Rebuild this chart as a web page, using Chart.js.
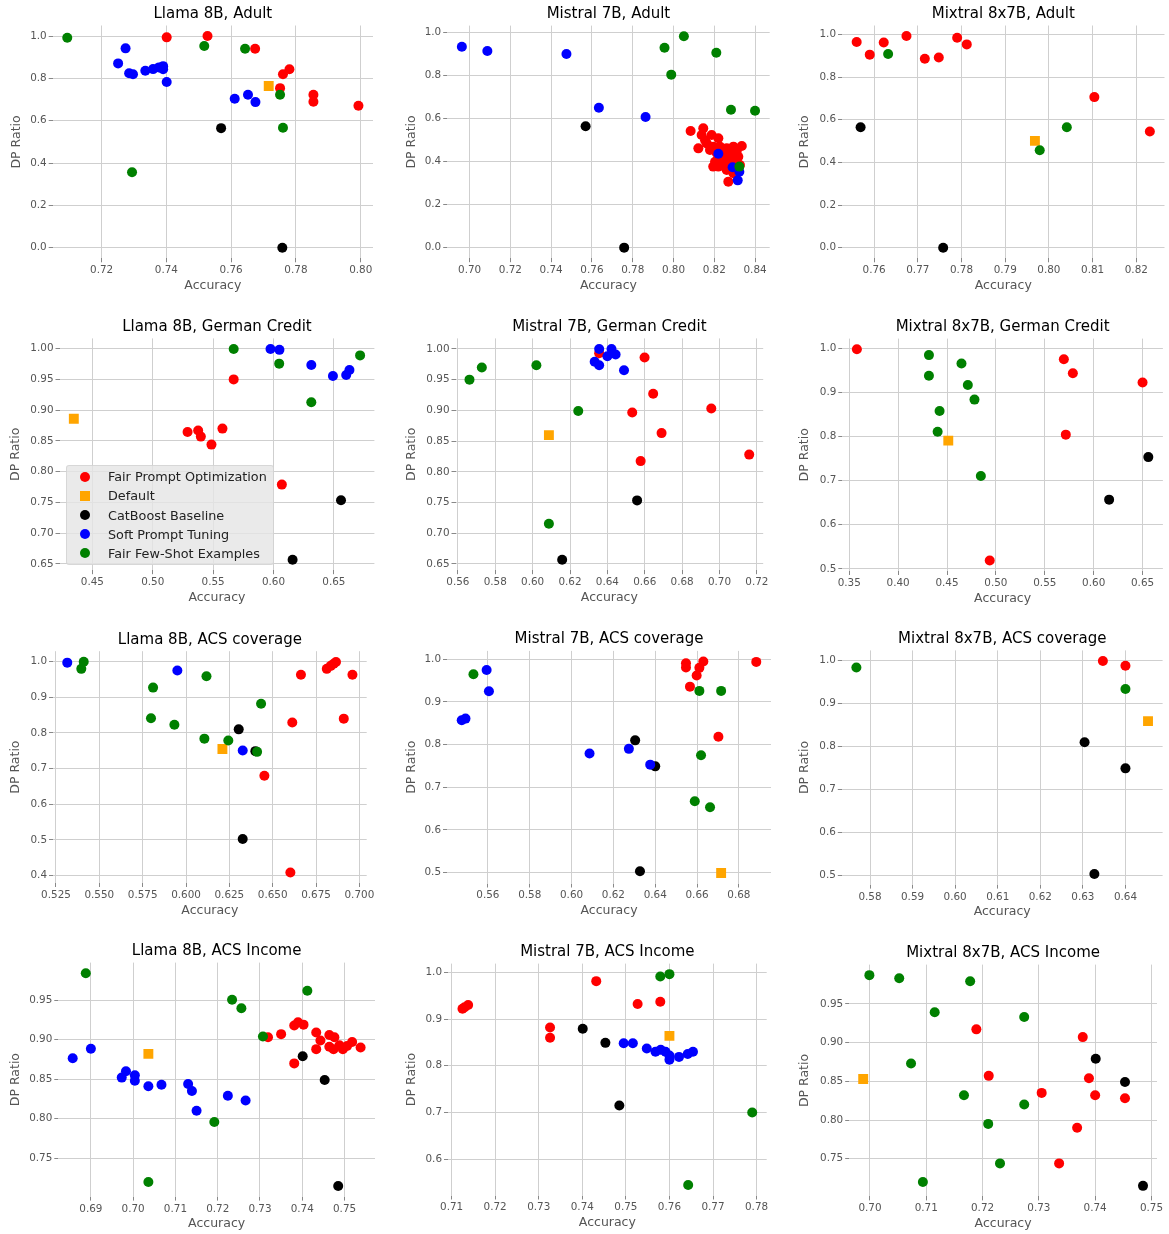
<!DOCTYPE html>
<html>
<head>
<meta charset="utf-8">
<script src="https://cdn.jsdelivr.net/npm/chart.js@4.4.1/dist/chart.umd.min.js"></script>
<style>
  body { margin: 0; background: #fff; }
  #fig { position: relative; width: 1169px; height: 1234px; overflow: hidden; background: #fff; }
  #fig canvas { position: absolute; }
  .legend { position: absolute; background: rgba(229,229,229,0.8); border: 1px solid rgba(204,204,204,0.6);
            border-radius: 3px; box-sizing: border-box; font-family: 'DejaVu Sans'; font-size: 12.8px; color: #222; }
  .legend .row { position: absolute; left: 0; height: 19px; line-height: 19px; white-space: nowrap; }
  .legend .mk { position: absolute; width: 10px; height: 10px; top: 4.5px; }
  .legend .tx { position: absolute; }
</style>
</head>
<body>
<div id="fig"></div>
<script>
const FONT = 'DejaVu Sans';

const seriesNames = ['Fair Prompt Optimization', 'Default', 'CatBoost Baseline', 'Soft Prompt Tuning', 'Fair Few-Shot Examples'];
const seriesColors = ['#ff0000', '#ffa500', '#000000', '#0000ff', '#008000'];
const seriesShapes = ['circle', 'rect', 'circle', 'circle', 'circle'];
// lower number is drawn on top
const drawOrder = [4, 5, 3, 2, 1];

const panelTitles = [
  'Llama 8B, Adult', 'Mistral 7B, Adult', 'Mixtral 8x7B, Adult',
  'Llama 8B, German Credit', 'Mistral 7B, German Credit', 'Mixtral 8x7B, German Credit',
  'Llama 8B, ACS coverage', 'Mistral 7B, ACS coverage', 'Mixtral 8x7B, ACS coverage',
  'Llama 8B, ACS Income', 'Mistral 7B, ACS Income', 'Mixtral 8x7B, ACS Income'
];

// ---- Llama 8B, Adult  [accuracy, dp ratio]
const llamaAdultFPO = [[0.7401,0.994],[0.7527,1.0],[0.7674,0.940],[0.7760,0.820],[0.7780,0.843],[0.7751,0.754],[0.7854,0.723],[0.7854,0.690],[0.7993,0.671]];
const llamaAdultDefault = [[0.7716,0.764]];
const llamaAdultCat = [[0.7569,0.565],[0.7758,0.0]];
const llamaAdultSPT = [[0.7274,0.942],[0.7251,0.871],[0.7285,0.824],[0.7297,0.820],[0.7335,0.836],[0.7359,0.844],[0.7377,0.852],[0.7390,0.858],[0.7390,0.843],[0.7401,0.783],[0.7611,0.704],[0.7652,0.723],[0.7675,0.688]];
const llamaAdultFFS = [[0.7094,0.992],[0.7517,0.953],[0.7643,0.940],[0.7751,0.723],[0.7760,0.567],[0.7294,0.357]];

// ---- Mistral 7B, Adult
const mistralAdultFPO = [[0.8084,0.543],[0.8146,0.555],[0.8138,0.524],[0.8187,0.524],[0.8220,0.509],[0.8122,0.462],[0.8163,0.485],[0.8179,0.454],[0.8196,0.470],[0.8228,0.470],[0.8244,0.447],[0.8261,0.462],[0.8294,0.470],[0.8335,0.473],[0.8310,0.447],[0.8277,0.431],[0.8244,0.416],[0.8204,0.400],[0.8195,0.377],[0.8236,0.384],[0.8269,0.392],[0.8302,0.408],[0.8318,0.423],[0.8261,0.361],[0.8294,0.346],[0.8269,0.307],[0.8220,0.377],[0.8326,0.384],[0.8155,0.500],[0.8212,0.440]];
const mistralAdultDefault = [[0.8280,0.369]];
const mistralAdultCat = [[0.7569,0.565],[0.7758,0.0]];
const mistralAdultSPT = [[0.6962,0.935],[0.7087,0.915],[0.7475,0.901],[0.7634,0.651],[0.7863,0.608],[0.8220,0.437],[0.8290,0.374],[0.8323,0.353],[0.8315,0.313]];
const mistralAdultFFS = [[0.7956,0.930],[0.8051,0.984],[0.8210,0.907],[0.7989,0.805],[0.8282,0.642],[0.8400,0.637],[0.8323,0.377]];

// ---- Mixtral 8x7B, Adult
const mixtralAdultFPO = [[0.7560,0.964],[0.7590,0.905],[0.7622,0.962],[0.7674,0.992],[0.7716,0.886],[0.7748,0.892],[0.7790,0.984],[0.7812,0.953],[0.8104,0.706],[0.8231,0.545]];
const mixtralAdultDefault = [[0.7968,0.501]];
const mixtralAdultCat = [[0.7569,0.565],[0.7758,0.0]];
const mixtralAdultSPT = [];
const mixtralAdultFFS = [[0.7632,0.908],[0.8041,0.565],[0.7979,0.457]];

// ---- Llama 8B, German Credit
const llamaGermanFPO = [[0.5288,0.8645],[0.5376,0.867],[0.5398,0.857],[0.5486,0.844],[0.5577,0.870],[0.5670,0.950],[0.6069,0.779]];
const llamaGermanDefault = [[0.4346,0.886]];
const llamaGermanCat = [[0.6158,0.657],[0.6559,0.7535]];
const llamaGermanSPT = [[0.5975,0.9995],[0.6049,0.998],[0.6313,0.9735],[0.6492,0.9556],[0.6602,0.957],[0.6629,0.9653]];
const llamaGermanFFS = [[0.5670,0.9995],[0.6047,0.9756],[0.6313,0.9128],[0.6717,0.989]];

// ---- Mistral 7B, German Credit
const mistralGermanFPO = [[0.6356,0.993],[0.6599,0.986],[0.6645,0.927],[0.6533,0.8965],[0.6956,0.903],[0.6690,0.863],[0.6578,0.8174],[0.7159,0.828]];
const mistralGermanDefault = [[0.6087,0.8597]];
const mistralGermanCat = [[0.6158,0.657],[0.6559,0.7535]];
const mistralGermanSPT = [[0.6356,1.0],[0.6422,1.0],[0.6332,0.979],[0.6356,0.9735],[0.6400,0.988],[0.6444,0.991],[0.6489,0.9653]];
const mistralGermanFFS = [[0.5662,0.950],[0.5728,0.9697],[0.6020,0.9735],[0.6244,0.899],[0.6087,0.7156]];

// ---- Mixtral 8x7B, German Credit
const mixtralGermanFPO = [[0.3578,0.9985],[0.5695,0.9758],[0.5787,0.944],[0.6500,0.9227],[0.5715,0.8045],[0.4937,0.519]];
const mixtralGermanDefault = [[0.4513,0.791]];
const mixtralGermanCat = [[0.6158,0.657],[0.6559,0.7535]];
const mixtralGermanSPT = [];
const mixtralGermanFFS = [[0.4315,0.985],[0.4315,0.938],[0.4648,0.966],[0.4713,0.917],[0.4781,0.884],[0.4424,0.858],[0.4404,0.811],[0.4846,0.7106]];

// ---- Llama 8B, ACS coverage
const llamaCovFPO = [[0.6663,0.963],[0.6812,0.9795],[0.6835,0.988],[0.6852,0.994],[0.6865,0.999],[0.6960,0.963],[0.6613,0.829],[0.6910,0.840],[0.6452,0.680],[0.6602,0.409]];
const llamaCovDefault = [[0.6210,0.755]];
const llamaCovCat = [[0.6304,0.810],[0.6400,0.749],[0.6327,0.503]];
const llamaCovSPT = [[0.5315,0.997],[0.5950,0.975],[0.6327,0.751]];
const llamaCovFFS = [[0.5410,0.9995],[0.5396,0.9795],[0.5810,0.927],[0.5798,0.841],[0.5933,0.823],[0.6118,0.959],[0.6106,0.784],[0.6244,0.779],[0.6433,0.882],[0.6410,0.747]];

// ---- Mistral 7B, ACS coverage
const mistralCovFPO = [[0.6547,0.9906],[0.6547,0.981],[0.6630,0.995],[0.6611,0.980],[0.6598,0.962],[0.6566,0.936],[0.6883,0.994],[0.6702,0.8185]];
const mistralCovDefault = [[0.6715,0.499]];
const mistralCovCat = [[0.6304,0.810],[0.6400,0.749],[0.6327,0.503]];
const mistralCovSPT = [[0.5475,0.857],[0.5493,0.861],[0.5594,0.975],[0.5605,0.925],[0.6086,0.779],[0.6274,0.790],[0.6376,0.753]];
const mistralCovFFS = [[0.5531,0.965],[0.6611,0.926],[0.6715,0.926],[0.6619,0.775],[0.6589,0.667],[0.6662,0.653]];

// ---- Mixtral 8x7B, ACS coverage
const mixtralCovFPO = [[0.6347,0.999],[0.6400,0.988]];
const mixtralCovDefault = [[0.6453,0.859]];
const mixtralCovCat = [[0.6304,0.810],[0.6400,0.749],[0.6327,0.503]];
const mixtralCovSPT = [];
const mixtralCovFFS = [[0.5768,0.984],[0.6400,0.934]];

// ---- Llama 8B, ACS Income
const llamaIncomeFPO = [[0.7319,0.903],[0.7350,0.907],[0.7381,0.918],[0.7390,0.922],[0.7403,0.919],[0.7433,0.909],[0.7443,0.899],[0.7433,0.888],[0.7381,0.870],[0.7464,0.906],[0.7476,0.903],[0.7464,0.891],[0.7474,0.888],[0.7488,0.893],[0.7496,0.888],[0.7506,0.892],[0.7518,0.897],[0.7538,0.890]];
const llamaIncomeDefault = [[0.7036,0.882]];
const llamaIncomeCat = [[0.7401,0.879],[0.7453,0.849],[0.7485,0.715]];
const llamaIncomeSPT = [[0.6857,0.8765],[0.6900,0.8884],[0.6973,0.852],[0.6983,0.860],[0.7004,0.855],[0.7004,0.848],[0.7036,0.841],[0.7067,0.843],[0.7130,0.844],[0.7139,0.835],[0.7150,0.810],[0.7224,0.829],[0.7266,0.823]];
const llamaIncomeFFS = [[0.6888,0.984],[0.7234,0.9504],[0.7256,0.9398],[0.7412,0.9619],[0.7307,0.904],[0.7192,0.7959],[0.7036,0.7199]];

// ---- Mistral 7B, ACS Income
const mistralIncomeFPO = [[0.7125,0.922],[0.7130,0.925],[0.7138,0.930],[0.7326,0.882],[0.7326,0.860],[0.7432,0.981],[0.7527,0.932],[0.7579,0.937]];
const mistralIncomeDefault = [[0.7600,0.864]];
const mistralIncomeCat = [[0.7401,0.879],[0.7453,0.849],[0.7485,0.715]];
const mistralIncomeSPT = [[0.7495,0.848],[0.7516,0.848],[0.7548,0.837],[0.7568,0.830],[0.7580,0.834],[0.7591,0.830],[0.7600,0.813],[0.7600,0.822],[0.7622,0.819],[0.7642,0.825],[0.7654,0.830]];
const mistralIncomeFFS = [[0.7579,0.991],[0.7600,0.996],[0.7790,0.700],[0.7643,0.545]];

// ---- Mixtral 8x7B, ACS Income
const mixtralIncomeFPO = [[0.7189,0.917],[0.7378,0.907],[0.7211,0.857],[0.7389,0.854],[0.7305,0.835],[0.7400,0.832],[0.7453,0.828],[0.7368,0.790],[0.7336,0.744]];
const mixtralIncomeDefault = [[0.6988,0.853]];
const mixtralIncomeCat = [[0.7401,0.879],[0.7453,0.849],[0.7485,0.715]];
const mixtralIncomeSPT = [];
const mixtralIncomeFFS = [[0.6999,0.987],[0.7052,0.983],[0.7178,0.979],[0.7115,0.939],[0.7274,0.933],[0.7073,0.873],[0.7167,0.832],[0.7274,0.820],[0.7210,0.795],[0.7231,0.744],[0.7094,0.720]];

// ---- tick labels
const xTicksLlamaAdult = ['0.72','0.74','0.76','0.78','0.80'];
const xTicksMistralAdult = ['0.70','0.72','0.74','0.76','0.78','0.80','0.82','0.84'];
const xTicksMixtralAdult = ['0.76','0.77','0.78','0.79','0.80','0.81','0.82'];
const yTicksAdult = ['0.0','0.2','0.4','0.6','0.8','1.0'];
const xTicksLlamaGerman = ['0.45','0.50','0.55','0.60','0.65'];
const xTicksMistralGerman = ['0.56','0.58','0.60','0.62','0.64','0.66','0.68','0.70','0.72'];
const xTicksMixtralGerman = ['0.35','0.40','0.45','0.50','0.55','0.60','0.65'];
const yTicksGerman = ['0.65','0.70','0.75','0.80','0.85','0.90','0.95','1.00'];
const yTicksMixtralGerman = ['0.5','0.6','0.7','0.8','0.9','1.0'];
const xTicksLlamaCov = ['0.525','0.550','0.575','0.600','0.625','0.650','0.675','0.700'];
const yTicksLlamaCov = ['0.4','0.5','0.6','0.7','0.8','0.9','1.0'];
const xTicksMistralCov = ['0.56','0.58','0.60','0.62','0.64','0.66','0.68'];
const xTicksMixtralCov = ['0.58','0.59','0.60','0.61','0.62','0.63','0.64'];
const yTicksCov = ['0.5','0.6','0.7','0.8','0.9','1.0'];
const xTicksLlamaIncome = ['0.69','0.70','0.71','0.72','0.73','0.74','0.75'];
const xTicksMistralIncome = ['0.71','0.72','0.73','0.74','0.75','0.76','0.77','0.78'];
const xTicksMixtralIncome = ['0.70','0.71','0.72','0.73','0.74','0.75'];
const yTicksIncome = ['0.75','0.80','0.85','0.90','0.95'];
const yTicksMistralIncome = ['0.6','0.7','0.8','0.9','1.0'];

const panels = [
  { series: [llamaAdultFPO, llamaAdultDefault, llamaAdultCat, llamaAdultSPT, llamaAdultFFS], xTicks: xTicksLlamaAdult, yTicks: yTicksAdult },
  { series: [mistralAdultFPO, mistralAdultDefault, mistralAdultCat, mistralAdultSPT, mistralAdultFFS], xTicks: xTicksMistralAdult, yTicks: yTicksAdult },
  { series: [mixtralAdultFPO, mixtralAdultDefault, mixtralAdultCat, mixtralAdultSPT, mixtralAdultFFS], xTicks: xTicksMixtralAdult, yTicks: yTicksAdult },
  { series: [llamaGermanFPO, llamaGermanDefault, llamaGermanCat, llamaGermanSPT, llamaGermanFFS], xTicks: xTicksLlamaGerman, yTicks: yTicksGerman },
  { series: [mistralGermanFPO, mistralGermanDefault, mistralGermanCat, mistralGermanSPT, mistralGermanFFS], xTicks: xTicksMistralGerman, yTicks: yTicksGerman },
  { series: [mixtralGermanFPO, mixtralGermanDefault, mixtralGermanCat, mixtralGermanSPT, mixtralGermanFFS], xTicks: xTicksMixtralGerman, yTicks: yTicksMixtralGerman },
  { series: [llamaCovFPO, llamaCovDefault, llamaCovCat, llamaCovSPT, llamaCovFFS], xTicks: xTicksLlamaCov, yTicks: yTicksLlamaCov },
  { series: [mistralCovFPO, mistralCovDefault, mistralCovCat, mistralCovSPT, mistralCovFFS], xTicks: xTicksMistralCov, yTicks: yTicksCov },
  { series: [mixtralCovFPO, mixtralCovDefault, mixtralCovCat, mixtralCovSPT, mixtralCovFFS], xTicks: xTicksMixtralCov, yTicks: yTicksCov },
  { series: [llamaIncomeFPO, llamaIncomeDefault, llamaIncomeCat, llamaIncomeSPT, llamaIncomeFFS], xTicks: xTicksLlamaIncome, yTicks: yTicksIncome },
  { series: [mistralIncomeFPO, mistralIncomeDefault, mistralIncomeCat, mistralIncomeSPT, mistralIncomeFFS], xTicks: xTicksMistralIncome, yTicks: yTicksMistralIncome },
  { series: [mixtralIncomeFPO, mixtralIncomeDefault, mixtralIncomeCat, mixtralIncomeSPT, mixtralIncomeFFS], xTicks: xTicksMixtralIncome, yTicks: yTicksIncome }
];

// plot area of each panel on the page (left, right, top, bottom) and
// the distance from the plot's left edge to the centre of the y title
const panelBoxes = [
  { L: 52.7,  R: 373,    T: 25.5,  B: 258.3,  yOff: 36.3 },
  { L: 447.2, R: 769.7,  T: 25.6,  B: 258.2,  yOff: 35.5 },
  { L: 842,   R: 1164.5, T: 25.5,  B: 258.3,  yOff: 37 },
  { L: 59.5,  R: 374.4,  T: 338.4, B: 570.2,  yOff: 43.5 },
  { L: 455.5, R: 763.2,  T: 338.4, B: 570.2,  yOff: 43.5 },
  { L: 842.3, R: 1162.9, T: 338.6, B: 571,    yOff: 37.3 },
  { L: 53,    R: 366.7,  T: 651.2, B: 883,    yOff: 37 },
  { L: 447,   R: 771,    T: 650.9, B: 883.5,  yOff: 35.3 },
  { L: 841.8, R: 1162.6, T: 650.4, B: 884.6,  yOff: 36.8 },
  { L: 58.3,  R: 375,    T: 962.6, B: 1196.6, yOff: 42.3 },
  { L: 448,   R: 766.7,  T: 963.6, B: 1195.5, yOff: 36.3 },
  { L: 849.2, R: 1157,   T: 964.6, B: 1196.4, yOff: 44.2 }
];

const fig = document.getElementById('fig');

// matplotlib style autoscale: data range plus 5% on each side
function limits(series, k) {
  const vals = series.flat().map(p => p[k]);
  const lo = Math.min(...vals), hi = Math.max(...vals);
  const m = (hi - lo) * 0.05;
  return [lo - m, hi + m];
}

function axis(labels, lim, title, fitFn) {
  return {
    type: 'linear',
    min: lim[0],
    max: lim[1],
    border: { display: false },
    grid: { color: '#cfcfcf', lineWidth: 1, tickLength: 4, tickColor: '#888', drawTicks: true },
    ticks: {
      autoSkip: false, maxRotation: 0, padding: 2, color: '#555',
      font: { size: 10.4, family: FONT },
      callback: (v, i) => labels[i]
    },
    afterBuildTicks: (scale) => { scale.ticks = labels.map(s => ({ value: parseFloat(s) })); },
    title: { display: true, text: title, color: '#555', padding: 0, font: { size: 12.5, family: FONT } },
    afterFit: fitFn
  };
}

function drawPanel(p, idx) {
  const box = panelBoxes[idx];
  const yW = box.yOff + 7.5;   // y title centre sits half a line in from the box edge
  const xH = 35;
  const titleH = 26;
  const left0 = box.L - yW, top0 = box.T - titleH;
  const cx = Math.floor(left0), cy = Math.floor(top0);
  const w = Math.ceil(box.R - cx + 22);
  const h = Math.ceil(box.B - cy + xH + 2);

  const canvas = document.createElement('canvas');
  canvas.width = w; canvas.height = h;
  canvas.style.left = cx + 'px'; canvas.style.top = cy + 'px';
  canvas.style.width = w + 'px'; canvas.style.height = h + 'px';
  fig.appendChild(canvas);

  const xLim = limits(p.series, 0);
  const yLim = limits(p.series, 1);

  new Chart(canvas, {
    type: 'scatter',
    data: {
      datasets: p.series.map((pts, i) => ({
        label: seriesNames[i],
        data: pts,
        order: drawOrder[i],
        backgroundColor: seriesColors[i],
        borderColor: seriesColors[i],
        borderWidth: 0,
        pointStyle: seriesShapes[i],
        pointRadius: seriesShapes[i] === 'rect' ? 7 : 5,
        pointHoverRadius: seriesShapes[i] === 'rect' ? 7 : 5
      }))
    },
    options: {
      responsive: false,
      animation: false,
      events: [],
      layout: {
        padding: {
          left: left0 - cx,
          top: top0 - cy,
          right: w - (box.R - cx),
          bottom: h - (box.B - cy) - xH
        }
      },
      plugins: {
        legend: { display: false },
        tooltip: { enabled: false },
        title: {
          display: true, text: panelTitles[idx], fullSize: false, color: '#000',
          font: { size: 15, family: FONT, weight: 'normal' },
          padding: { top: 5.5, bottom: 2.5 }
        }
      },
      scales: {
        x: axis(p.xTicks, xLim, 'Accuracy', (s) => { s.height = xH; }),
        y: axis(p.yTicks, yLim, 'DP Ratio', (s) => { s.width = yW; })
      }
    }
  });
}

panels.forEach(drawPanel);

// legend inside the German Credit / Llama panel
(function legend() {
  const lg = document.createElement('div');
  lg.className = 'legend';
  lg.style.left = '66px'; lg.style.top = '464.5px';
  lg.style.width = '208px'; lg.style.height = '100.5px';
  seriesNames.forEach((name, i) => {
    const row = document.createElement('div');
    row.className = 'row';
    row.style.top = (1.7 + i * 19.15) + 'px';
    const mk = document.createElement('span');
    mk.className = 'mk';
    mk.style.left = '12.5px';
    mk.style.background = seriesColors[i];
    if (seriesShapes[i] === 'circle') mk.style.borderRadius = '50%';
    const tx = document.createElement('span');
    tx.className = 'tx';
    tx.style.left = '41px';
    tx.textContent = name;
    row.appendChild(mk); row.appendChild(tx);
    lg.appendChild(row);
  });
  fig.appendChild(lg);
})();
</script>
</body>
</html>
